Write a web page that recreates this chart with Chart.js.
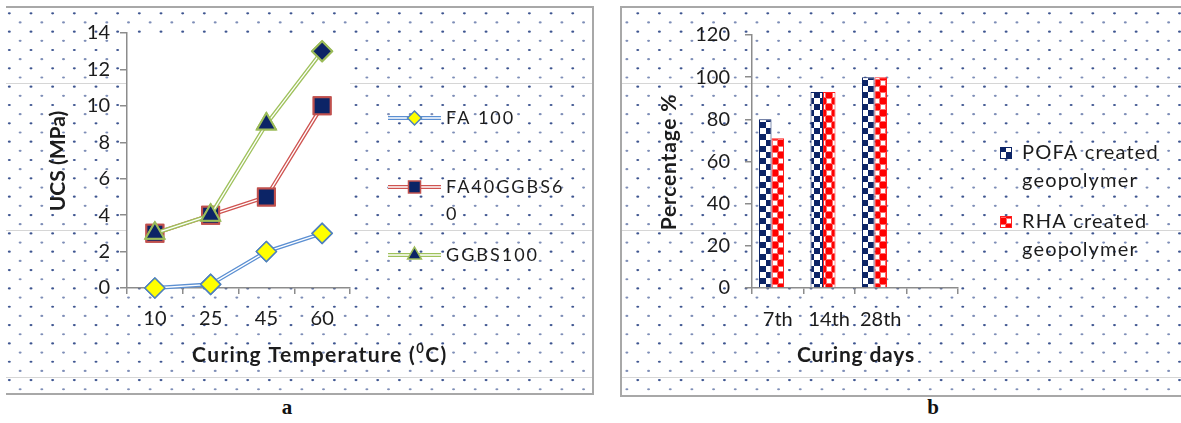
<!DOCTYPE html>
<html>
<head>
<meta charset="utf-8">
<script src="https://cdn.jsdelivr.net/npm/chart.js@4.4.1/dist/chart.umd.min.js"></script>
<style>
  html, body { margin: 0; padding: 0; background: #ffffff; }
  body { width: 1181px; height: 423px; position: relative; overflow: hidden; }
  #panelA { position: absolute; left: 6px; top: 6px; width: 586px; height: 385px;
            border-top: 2px solid #a8a8a8; border-right: 2px solid #a8a8a8; border-bottom: 2px solid #a8a8a8; }
  #panelB { position: absolute; left: 620px; top: 6px; width: 570px; height: 387px;
            border-top: 2px solid #a8a8a8; border-left: 2px solid #a8a8a8; border-bottom: 2px solid #a8a8a8; }
  canvas { display: block; }
  .cap { position: absolute; top: 397px; width: 40px; text-align: center;
         font-family: "Liberation Serif", serif; font-weight: bold; font-size: 21px; line-height: 21px; color: #111; }
</style>
</head>
<body>
<div id="panelA"><canvas id="ucs" width="586" height="385"></canvas></div>
<div id="panelB"><canvas id="pct" width="570" height="387"></canvas></div>
<div class="cap" style="left:267px">a</div>
<div class="cap" style="left:913px">b</div>

<script>
// ---- chart a: UCS against curing temperature ----
const tempLabels = ['10', '25', '45', '60'];
const fa100 = [0, 0.2, 2, 3];
const fa40ggbs60 = [3, 4, 5, 10];
const ggbs100 = [3, 4, 9, 13];

// ---- chart b: strength percentage against curing age ----
const dayLabels = ['7th', '14th', '28th', ''];
const pofaPct = [80, 93, 100];
const rhaPct = [71, 93, 100];

const NAVY = '#0c2466';
const AXIS = '#8c8c8c';
const INK = '#1c1c1c';
const FONT = 'Lato, "Open Sans", sans-serif';

Chart.defaults.font.family = FONT;
Chart.defaults.color = INK;

// faint horizontal rules running across both panels (page y)
const ruleRows = [83.5, 230.5, 377.5];

function paintBackdrop(ctx, w, h, ox, oy) {
  ctx.fillStyle = '#ffffff';
  ctx.fillRect(0, 0, w, h);
  ctx.strokeStyle = '#d6d6d6';
  ctx.lineWidth = 1.2;
  ruleRows.forEach(py => {
    const y = py - oy;
    ctx.beginPath(); ctx.moveTo(0, y); ctx.lineTo(w, y); ctx.stroke();
  });
  // staggered dot fill
  const dx = 21.67, dy = 9.17;
  for (let j = 0; j < 60; j++) {
    const y = 13.3 + j * dy - oy;
    if (y < -3) continue;
    if (y > h + 3) break;
    const odd = j % 2 === 1;
    ctx.fillStyle = odd ? 'rgba(40,66,135,0.6)' : 'rgba(28,55,125,0.85)';
    let x = 9.3 + (odd ? dx / 2 : 0) - ox;
    x -= Math.ceil((x + 3) / dx) * dx;
    for (; x < w + 3; x += dx) {
      if (x < -3) continue;
      ctx.beginPath();
      ctx.ellipse(x, y, 1.5, 1.1, 0, 0, Math.PI * 2);
      ctx.fill();
    }
  }
}

const backdrop = {
  id: 'backdrop',
  beforeDraw(chart, args, o) {
    const ctx = chart.ctx;
    ctx.save();
    paintBackdrop(ctx, chart.width, chart.height, o.ox, o.oy);
    if (o.whitePlot) {
      const a = chart.chartArea;
      ctx.fillStyle = '#ffffff';
      ctx.fillRect(a.left, a.top, a.right - a.left, a.bottom - a.top);
    }
    ctx.restore();
  }
};

// compound (double) line: thin white core through each series line
const doubleLine = {
  id: 'doubleLine',
  afterDatasetDraw(chart, args) {
    const meta = args.meta;
    if (meta.type !== 'line') return;
    const ctx = chart.ctx;
    const pts = meta.data;
    ctx.save();
    ctx.strokeStyle = '#ffffff';
    ctx.lineWidth = 1.3;
    ctx.lineJoin = 'round';
    ctx.beginPath();
    pts.forEach((p, i) => i ? ctx.lineTo(p.x, p.y) : ctx.moveTo(p.x, p.y));
    ctx.stroke();
    pts.forEach(p => p.draw(ctx, chart.chartArea));
    ctx.restore();
  }
};

function wrapChars(ctx, text, maxW) {
  const lines = [];
  let cur = '';
  for (const ch of text) {
    if (cur && ctx.measureText(cur + ch).width > maxW) { lines.push(cur); cur = ch; }
    else cur += ch;
  }
  if (cur) lines.push(cur);
  return lines;
}

function wrapWords(ctx, text, maxW) {
  const lines = [];
  let cur = '';
  text.split(' ').forEach(w => {
    const t = cur ? cur + ' ' + w : w;
    if (cur && ctx.measureText(t).width > maxW) { lines.push(cur); cur = w; }
    else cur = t;
  });
  if (cur) lines.push(cur);
  return lines;
}

// key for chart a: line sample with marker, label wrapped to the key width
const lineKey = {
  id: 'lineKey',
  afterDraw(chart, args, o) {
    const ctx = chart.ctx;
    ctx.save();
    ctx.font = o.size + 'px ' + FONT;
    ctx.letterSpacing = o.spacing + 'px';
    ctx.textBaseline = 'middle';
    chart.data.datasets.forEach((ds, i) => {
      const y = o.rows[i];
      ctx.lineCap = 'butt';
      ctx.strokeStyle = ds.borderColor; ctx.lineWidth = 4;
      ctx.beginPath(); ctx.moveTo(o.x0, y); ctx.lineTo(o.x1, y); ctx.stroke();
      ctx.strokeStyle = '#ffffff'; ctx.lineWidth = 1.3;
      ctx.beginPath(); ctx.moveTo(o.x0, y); ctx.lineTo(o.x1, y); ctx.stroke();
      ctx.fillStyle = ds.pointBackgroundColor;
      ctx.strokeStyle = ds.pointBorderColor;
      ctx.lineWidth = 1.5;
      const style = Array.isArray(ds.pointStyle) ? ds.pointStyle[0] : ds.pointStyle;
      Chart.helpers.drawPoint(ctx, { pointStyle: style, rotation: 0, radius: o.marker[i], borderWidth: 1.5 }, (o.x0 + o.x1) / 2, y);
      ctx.fillStyle = INK;
      wrapChars(ctx, ds.label, o.textW).forEach((ln, k) => ctx.fillText(ln, o.tx, y + k * o.lineH));
    });
    ctx.restore();
  }
};

// key for chart b: patterned swatch, label wrapped by words
const barKey = {
  id: 'barKey',
  afterDraw(chart, args, o) {
    const ctx = chart.ctx;
    ctx.save();
    ctx.font = o.size + 'px ' + FONT;
    ctx.letterSpacing = o.spacing + 'px';
    ctx.textBaseline = 'middle';
    chart.data.datasets.forEach((ds, i) => {
      if (!ds.label) return;
      const y = o.rows[i];
      ctx.fillStyle = ds.backgroundColor;
      ctx.fillRect(o.sx, y - 6, 12, 12);
      ctx.strokeStyle = ds.borderColor; ctx.lineWidth = 1;
      ctx.strokeRect(o.sx + 0.5, y - 5.5, 11, 11);
      ctx.fillStyle = INK;
      wrapWords(ctx, ds.label, o.textW).forEach((ln, k) => ctx.fillText(ln, o.tx, y + k * o.lineH));
    });
    ctx.restore();
  }
};

// axis titles; segments allow a raised small character
const axisTitles = {
  id: 'axisTitles',
  afterDraw(chart, args, o) {
    const ctx = chart.ctx;
    ctx.save();
    ctx.fillStyle = INK;
    // vertical title
    ctx.save();
    ctx.letterSpacing = o.ySpacing + 'px';
    ctx.translate(o.yTitle.x, o.yTitle.y);
    ctx.rotate(-Math.PI / 2);
    ctx.font = 'bold ' + o.size + 'px ' + FONT;
    ctx.textAlign = 'center';
    ctx.textBaseline = 'middle';
    ctx.fillText(o.yTitle.text, 0, 0);
    ctx.restore();
    // horizontal title
    ctx.letterSpacing = o.xSpacing + 'px';
    let x = o.xTitle.x;
    ctx.textBaseline = 'alphabetic';
    o.xTitle.parts.forEach(p => {
      const sz = p.sup ? Math.round(o.size * 0.62) : o.size;
      ctx.font = 'bold ' + sz + 'px ' + FONT;
      ctx.fillText(p.t, x, o.xTitle.y - (p.sup ? o.size * 0.42 : 0));
      x += ctx.measureText(p.t).width;
    });
    ctx.restore();
  }
};

function checkerPattern(ink, outline) {
  const c = document.createElement('canvas');
  c.width = 12; c.height = 12;
  const g = c.getContext('2d');
  g.fillStyle = '#ffffff'; g.fillRect(0, 0, 12, 12);
  g.fillStyle = ink;
  g.fillRect(0, 0, 6, 6); g.fillRect(6, 6, 6, 6);
  if (outline) {
    g.strokeStyle = outline; g.lineWidth = 1;
    g.strokeRect(6.5, 0.5, 5, 5); g.strokeRect(0.5, 6.5, 5, 5);
  }
  return g.createPattern(c, 'repeat');
}

const tickFont = { size: 20 };

new Chart(document.getElementById('ucs'), {
  type: 'line',
  data: {
    labels: tempLabels,
    datasets: [
      { label: 'FA 100', data: fa100, order: 3, clip: false,
        borderColor: '#5b8fd2', borderWidth: 4,
        pointStyle: 'rectRot', pointRadius: 10,
        pointBackgroundColor: '#ffff00', pointBorderColor: '#4f81bd', pointBorderWidth: 1.5 },
      { label: 'FA40GGBS60', data: fa40ggbs60, order: 2, clip: false,
        borderColor: '#cf5451', borderWidth: 4,
        pointStyle: 'rect', pointRadius: 12,
        pointBackgroundColor: NAVY, pointBorderColor: '#c0504d', pointBorderWidth: 2 },
      { label: 'GGBS100', data: ggbs100, order: 1, clip: false,
        borderColor: '#9fc25c', borderWidth: 4,
        pointStyle: ['triangle', 'triangle', 'triangle', 'rectRot'], pointRadius: [11, 11, 11, 10],
        pointBackgroundColor: NAVY, pointBorderColor: '#9bbb59', pointBorderWidth: 2 }
    ]
  },
  options: {
    responsive: false,
    devicePixelRatio: 1,
    animation: false,
    events: [],
    layout: { padding: { left: 0, right: 242, top: 25, bottom: 45 } },
    elements: { line: { tension: 0 } },
    plugins: {
      legend: { display: false },
      tooltip: { enabled: false },
      backdrop: { ox: 6, oy: 8, whitePlot: true },
      lineKey: { rows: [110, 179, 247], x0: 382, x1: 435, tx: 440, textW: 126,
                 lineH: 27, size: 18, spacing: 2, marker: [7, 8.5, 8] },
      axisTitles: { size: 21, xSpacing: 1.4, ySpacing: 0,
                    yTitle: { text: 'UCS (MPa)', x: 52, y: 153 },
                    xTitle: { x: 186, y: 354, parts: [{ t: 'Curing Temperature (' }, { t: '0', sup: true }, { t: 'C)' }] } }
    },
    scales: {
      x: {
        offset: true,
        grid: { offset: true, drawOnChartArea: false, tickLength: 6, color: AXIS, lineWidth: 1.5 },
        border: { color: AXIS, width: 1.5 },
        ticks: { padding: 13, font: tickFont, color: INK },
        afterFit: s => { s.height = 60; }
      },
      y: {
        min: 0, max: 14,
        grid: { drawOnChartArea: false, tickLength: 7, color: AXIS, lineWidth: 1.5 },
        border: { color: AXIS, width: 1.5 },
        ticks: { stepSize: 2, padding: 10, font: tickFont, color: INK },
        afterFit: s => { s.width = 121; }
      }
    }
  },
  plugins: [backdrop, doubleLine, lineKey, axisTitles]
});

new Chart(document.getElementById('pct'), {
  type: 'bar',
  data: {
    labels: dayLabels,
    datasets: [
      { label: 'POFA created geopolymer', data: pofaPct,
        backgroundColor: checkerPattern(NAVY, null), borderColor: NAVY, borderWidth: 1 },
      { label: 'RHA created geopolymer', data: rhaPct,
        backgroundColor: checkerPattern('#ff0000', '#ff6a6a'), borderColor: '#ff2020', borderWidth: 1 },
      // empty third slot of each group, leaves the pair left of the category centre
      { label: '', data: [], backgroundColor: 'rgba(0,0,0,0)' }
    ]
  },
  options: {
    responsive: false,
    devicePixelRatio: 1,
    animation: false,
    events: [],
    layout: { padding: { left: 0, right: 234, top: 25, bottom: 47 } },
    datasets: { bar: { categoryPercentage: 0.728, barPercentage: 1.0 } },
    plugins: {
      legend: { display: false },
      tooltip: { enabled: false },
      backdrop: { ox: 622, oy: 8, whitePlot: false },
      barKey: { rows: [145, 214], sx: 378, tx: 400, textW: 150, lineH: 27.5, size: 20, spacing: 1.2 },
      axisTitles: { size: 21, xSpacing: 0.8, ySpacing: 0.8,
                    yTitle: { text: 'Percentage %', x: 47, y: 154 },
                    xTitle: { x: 175, y: 354, parts: [{ t: 'Curing days' }] } }
    },
    scales: {
      x: {
        grid: { offset: true, drawOnChartArea: false, tickLength: 6, color: AXIS, lineWidth: 1.5 },
        border: { color: AXIS, width: 1.5 },
        ticks: { padding: 14, font: tickFont, color: INK },
        afterFit: s => { s.height = 60; }
      },
      y: {
        min: 0, max: 120,
        grid: { drawOnChartArea: false, tickLength: 7, color: AXIS, lineWidth: 1.5 },
        border: { color: AXIS, width: 1.5 },
        ticks: { stepSize: 20, padding: 15, font: tickFont, color: INK },
        afterFit: s => { s.width = 130; }
      }
    }
  },
  plugins: [backdrop, barKey, axisTitles]
});
</script>
</body>
</html>
